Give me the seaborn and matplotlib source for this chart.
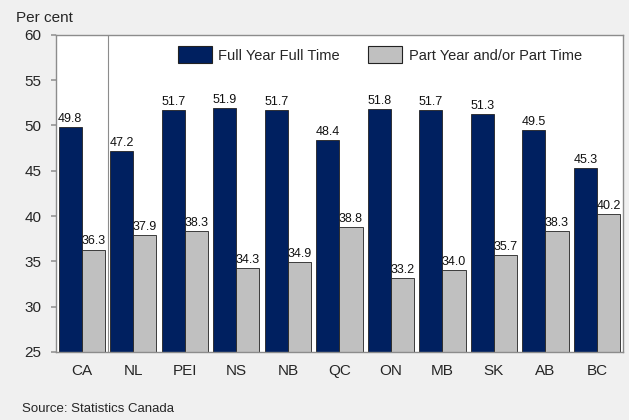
import matplotlib
matplotlib.use("Agg")
import matplotlib.pyplot as plt
import seaborn as sns
import pandas as pd
import numpy as np

regions = ["CA", "NL", "PEI", "NS", "NB", "QC", "ON", "MB", "SK", "AB", "BC"]
full_time = [49.8, 47.2, 51.7, 51.9, 51.7, 48.4, 51.8, 51.7, 51.3, 49.5, 45.3]
part_time = [36.3, 37.9, 38.3, 34.3, 34.9, 38.8, 33.2, 34.0, 35.7, 38.3, 40.2]
series = ["Full Year Full Time", "Part Year and/or Part Time"]
colors = ["#002060", "#C0C0C0"]
y_ticks = [25, 30, 35, 40, 45, 50, 55, 60]

df = pd.DataFrame({
    "region": regions * 2,
    "value": full_time + part_time,
    "series": [series[0]] * len(regions) + [series[1]] * len(regions),
})

sns.set_theme(style="white")
plt.rcParams["font.family"] = ["Liberation Sans", "DejaVu Sans"]

fig = plt.figure(figsize=(6.29, 4.2), dpi=100, facecolor="#F0F0F0")
ax = fig.add_axes([0.089, 0.162, 0.901, 0.755])
ax.set_facecolor("white")

sns.barplot(data=df, x="region", y="value", hue="series", order=regions,
            hue_order=series, palette=colors, saturation=1, width=0.9,
            dodge=True, edgecolor="#222222", linewidth=0.6, ax=ax)

for cont in ax.containers:
    ax.bar_label(cont, fmt="%.1f", padding=1.5, fontsize=9, color="#111111")

ax.set_ylim(25, 60)
ax.set_xlim(-0.5, len(regions) - 0.5)
ax.set_yticks(y_ticks)
ax.set_yticklabels([str(t) for t in y_ticks], fontsize=11)
ax.set_xlabel("")
ax.set_ylabel("")
ax.tick_params(axis="x", which="major", length=0, labelsize=11, pad=9)
ax.set_xticks(np.arange(-0.5, len(regions)), minor=True)
ax.tick_params(axis="x", which="minor", length=3.6, color="#999999", direction="out")
ax.tick_params(axis="y", length=3.6, color="#999999", direction="out", left=True, pad=7)

for sp in ax.spines.values():
    sp.set_color("#8C8C8C")
    sp.set_linewidth(1.0)

ax.axvline(0.5, color="#8C8C8C", linewidth=0.8)

leg = ax.legend(loc="center", bbox_to_anchor=(0.571, 0.937), ncol=2,
                frameon=False, fontsize=10.5, handlelength=2.35, handleheight=1.4,
                columnspacing=1.9, handletextpad=0.45, borderpad=0)
for h in leg.legend_handles:
    h.set_edgecolor("#222222")
    h.set_linewidth(0.8)

fig.text(0.025, 0.958, "Per cent", fontsize=11, ha="left", va="center")
fig.text(0.035, 0.025, "Source: Statistics Canada", fontsize=9.5, ha="left", va="center")

fig.savefig("out.png", dpi=100, facecolor=fig.get_facecolor())
